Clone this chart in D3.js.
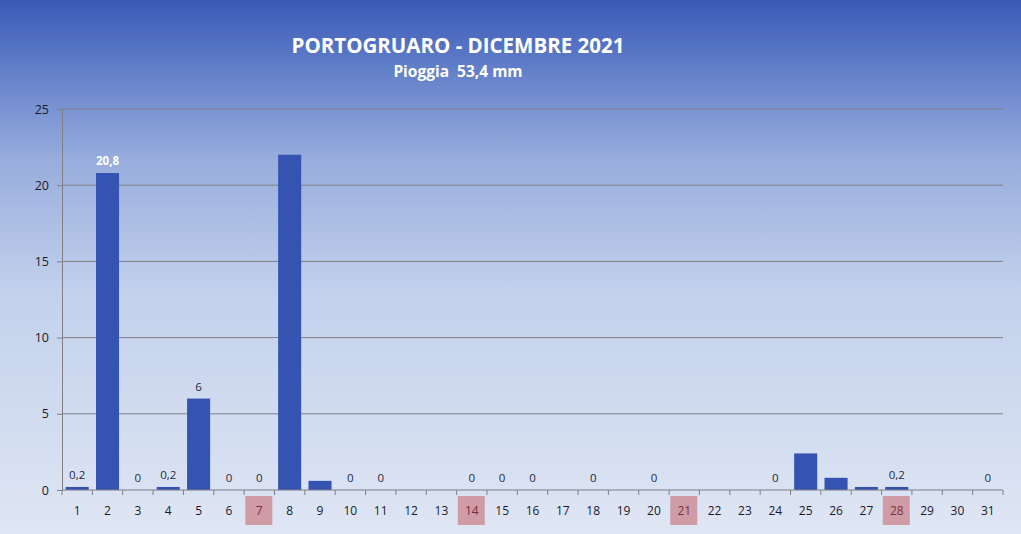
<!DOCTYPE html>
<html><head><meta charset="utf-8">
<script src="https://cdn.jsdelivr.net/npm/d3@7"></script>
<style>html,body{margin:0;padding:0;overflow:hidden}svg{display:block}</style>
</head><body>
<script>
const days = d3.range(1, 32).map(String);
const rain = [0.2,20.8,0,0.2,6,0,0,22,0.6,0,0,null,null,0,0,0,null,0,null,0,null,null,null,0,2.4,0.8,0.2,0.2,null,null,0];
const labels = ["0,2","20,8","0","0,2","6","0","0",null,null,"0","0",null,null,"0","0","0",null,"0",null,"0",null,null,null,"0",null,null,null,"0,2",null,null,"0"];
const sundays = ["7","14","21","28"];
const yTicks = [0,5,10,15,20,25];
const title = "PORTOGRUARO - DICEMBRE 2021";
const subtitle = "Pioggia  53,4 mm";

const W = 1021, H = 534;
const svg = d3.select("body").append("svg").attr("width", W).attr("height", H);
const defs = svg.append("defs");
const g = defs.append("linearGradient").attr("id","bg").attr("x1",0).attr("y1",0).attr("x2",0).attr("y2",1);
[[0,"#3a59b6"],[0.12,"#5f7cc8"],[0.3,"#98addd"],[0.55,"#c3d1ec"],[1,"#dfe6f4"]].forEach(s=>g.append("stop").attr("offset",s[0]).attr("stop-color",s[1]));
svg.append("rect").attr("width",W).attr("height",H).attr("fill","url(#bg)");

const x = d3.scaleBand().domain(days).range([62,1003]).paddingInner(0.24).paddingOuter(0.12);
const y = d3.scaleLinear().domain([0,25]).range([490,109]);
const font = "'Open Sans', 'DejaVu Sans', sans-serif";

// gridlines
svg.append("g").selectAll("line").data(yTicks.filter(t=>t>0)).join("line")
  .attr("x1",62).attr("x2",1003).attr("y1",d=>y(d)).attr("y2",d=>y(d))
  .attr("stroke","#7f7f85").attr("stroke-width",1);

// y axis
const ya = svg.append("g").attr("transform","translate(62,0)")
  .call(d3.axisLeft(y).tickValues(yTicks).tickSize(5).tickPadding(8));
ya.select(".domain").attr("stroke","#7f7f85");
ya.selectAll(".tick line").attr("stroke","#7f7f85");
ya.selectAll("text").attr("font-family",font).attr("font-size",12.5).attr("fill","#1a1a2a");

// sunday highlight boxes
svg.append("g").selectAll("rect").data(sundays).join("rect")
  .attr("x",d=>x(d)+x.bandwidth()/2-14).attr("y",496).attr("width",27).attr("height",29)
  .attr("fill","#cf9ca6");

// bars
svg.append("g").selectAll("rect").data(days.map((d,i)=>({d,v:rain[i]})).filter(o=>o.v!=null && o.v>0)).join("rect")
  .attr("x",o=>x(o.d)).attr("width",x.bandwidth())
  .attr("y",o=>y(o.v)).attr("height",o=>y(0)-y(o.v))
  .attr("fill","#3553b1");

// x axis
const xa = svg.append("g").attr("transform","translate(0,490)");
xa.append("line").attr("x1",62).attr("x2",1003).attr("stroke","#7f7f85");
xa.selectAll("line.t").data(d3.range(32)).join("line").attr("class","t")
  .attr("x1",i=>62+i*(941/31)).attr("x2",i=>62+i*(941/31)).attr("y1",0).attr("y2",5).attr("stroke","#7f7f85");
xa.selectAll("text").data(days).join("text")
  .attr("x",d=>x(d)+x.bandwidth()/2).attr("y",25).attr("text-anchor","middle")
  .attr("font-family",font).attr("font-size",12)
  .attr("fill",d=>sundays.includes(d)?"#7a2f40":"#1a1a2a").text(d=>d);

// value labels
svg.append("g").selectAll("text").data(days.map((d,i)=>({d,v:rain[i],l:labels[i]})).filter(o=>o.l!=null)).join("text")
  .attr("x",o=>x(o.d)+x.bandwidth()/2).attr("y",o=>y(o.v||0)-8)
  .attr("text-anchor","middle").attr("font-family",font).attr("font-size",11.5)
  .attr("font-weight",o=>o.v>15?"bold":"normal")
  .attr("fill",o=>o.v>15?"#ffffff":"#222a40").text(o=>o.l);

// titles
svg.append("text").attr("x",458).attr("y",53).attr("text-anchor","middle")
  .attr("font-family",font).attr("font-size",20.5).attr("font-weight","bold").attr("fill","#ffffff").text(title);
svg.append("text").attr("x",458).attr("y",77).attr("text-anchor","middle")
  .attr("font-family",font).attr("font-size",15.5).attr("font-weight","bold").attr("fill","#ffffff")
  .attr("xml:space","preserve").style("white-space","pre").text(subtitle);
</script>
</body></html>
